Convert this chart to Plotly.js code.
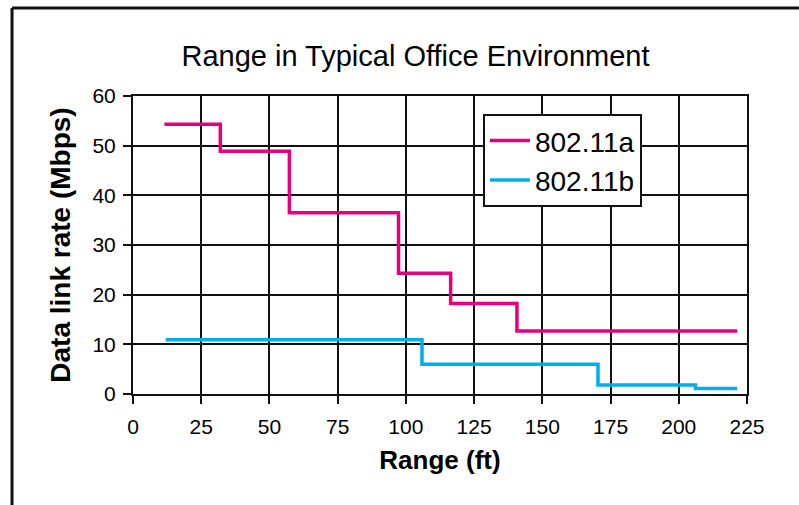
<!DOCTYPE html>
<html>
<head>
<meta charset="utf-8">
<script src="https://cdn.plot.ly/plotly-3.0.1.min.js"></script>
<style>html,body{margin:0;padding:0;background:#fff;}#chart{width:799px;height:505px;}</style>
</head>
<body>
<div id="chart"></div>
<script>
// Data (step lines)
const rangeA = [11.5, 32, 57.3, 97.3, 116.4, 140.7, 221.4];
const rateA  = [54.3, 48.9, 36.5, 24.3, 18.2, 12.7, 12.7];
const rangeB = [12, 105.9, 170.4, 206.1, 221.4];
const rateB  = [10.9, 6.0, 1.8, 1.1, 1.1];
const seriesNames = ['802.11a', '802.11b'];
const xTicks = [0, 25, 50, 75, 100, 125, 150, 175, 200, 225];
const yTicks = [0, 10, 20, 30, 40, 50, 60];

const FONT = 'Liberation Sans, Arial, Helvetica, sans-serif';

const traces = [
  {x: rangeA, y: rateA, name: seriesNames[0], mode: 'lines',
   line: {color: '#E6007E', width: 3.5, shape: 'hv'}},
  {x: rangeB, y: rateB, name: seriesNames[1], mode: 'lines',
   line: {color: '#00AEEF', width: 3.5, shape: 'hv'}}
];

const axisCommon = {
  showline: true, linecolor: '#111', linewidth: 2, mirror: true,
  ticks: 'outside', ticklen: 8, tickwidth: 2, tickcolor: '#111',
  showgrid: true, gridcolor: '#111', gridwidth: 2, zeroline: false,
  tickfont: {family: FONT, size: 21, color: '#000'}
};

const layout = {
  width: 799, height: 505,
  paper_bgcolor: '#fff', plot_bgcolor: '#fff',
  margin: {l: 133, r: 52, t: 96, b: 111},
  title: {text: 'Range in Typical Office Environment', x: 0.52, xanchor: 'center', y: 0.89, yanchor: 'middle',
          font: {family: FONT, size: 29, color: '#000'}},
  xaxis: Object.assign({}, axisCommon, {
    range: [0, 225], tickvals: xTicks, ticktext: xTicks.map(String), ticklabelstandoff: 5,
    title: {text: '<b>Range (ft)</b>', font: {family: FONT, size: 26, color: '#000'}, standoff: 14}
  }),
  yaxis: Object.assign({}, axisCommon, {
    range: [0, 60], tickvals: yTicks, ticktext: yTicks.map(String), ticklabelstandoff: 3,
    title: {text: '<b>Data link rate (Mbps)</b>', font: {family: FONT, size: 28, color: '#000'}, standoff: 14}
  }),
  showlegend: true,
  legend: {x: 0.570, y: 0.94, xanchor: 'left', yanchor: 'top', itemwidth: 40,
           bgcolor: '#fff', bordercolor: '#111', borderwidth: 2,
           font: {family: FONT, size: 28, color: '#000'}},
  shapes: [
    {type: 'line', xref: 'paper', yref: 'paper', x0: -0.197, x1: -0.197, y0: -0.40, y1: 1.295,
     line: {color: '#111', width: 3}},
    {type: 'line', xref: 'paper', yref: 'paper', x0: -0.197, x1: 1.2, y0: 1.295, y1: 1.295,
     line: {color: '#111', width: 3}}
  ]
};

Plotly.newPlot('chart', traces, layout, {displayModeBar: false, staticPlot: true});
</script>
</body>
</html>
